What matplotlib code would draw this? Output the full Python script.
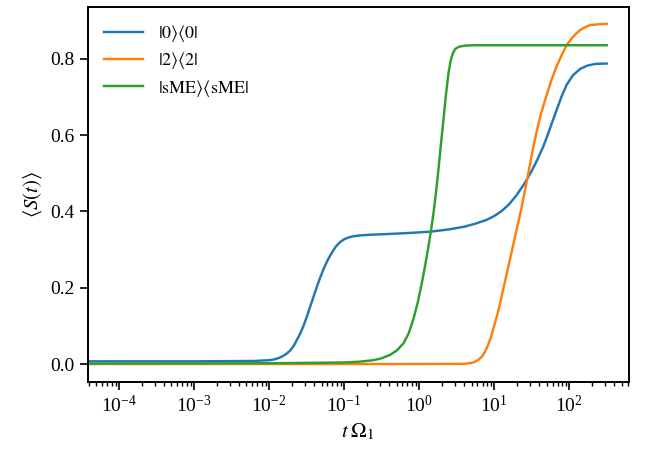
import numpy as np
import matplotlib.pyplot as plt

plt.rcParams['font.family'] = ['Liberation Serif', 'DejaVu Serif']
plt.rcParams['mathtext.fontset'] = 'stix'

# log10(t Omega_1) and <S(t)> for each projector
x_ground = [-4.5, -3.0, -2.2, -2.0, -1.93, -1.853, -1.78, -1.72, -1.67, -1.63,
            -1.585, -1.543, -1.5, -1.453, -1.41, -1.364, -1.32, -1.276, -1.22,
            -1.164, -1.11, -1.053, -1.0, -0.94, -0.876, -0.8, -0.653, -0.4, -0.1,
            0.15, 0.4, 0.6, 0.75, 0.9, 1.0, 1.1, 1.2, 1.3, 1.4, 1.5, 1.569, 1.65,
            1.703, 1.77, 1.836, 1.9, 1.969, 2.05, 2.147, 2.25, 2.35, 2.5]
s_ground = [0.007, 0.007, 0.008, 0.010, 0.012, 0.017, 0.025, 0.035, 0.048, 0.063,
            0.080, 0.099, 0.122, 0.150, 0.175, 0.202, 0.226, 0.248, 0.272,
            0.292, 0.308, 0.320, 0.327, 0.332, 0.335, 0.337, 0.339, 0.341, 0.344,
            0.347, 0.353, 0.360, 0.368, 0.378, 0.388, 0.401, 0.419, 0.443, 0.472,
            0.506, 0.533, 0.568, 0.595, 0.632, 0.668, 0.702, 0.733, 0.757, 0.774,
            0.783, 0.787, 0.788]

x_two = [-4.5, 0.0, 0.6, 0.7, 0.747, 0.79, 0.84, 0.88, 0.92, 0.96, 1.0, 1.04,
         1.08, 1.12, 1.16, 1.2, 1.24, 1.28, 1.32, 1.36, 1.39, 1.43, 1.457, 1.51,
         1.569, 1.63, 1.703, 1.77, 1.836, 1.9, 1.969, 2.05, 2.147, 2.22, 2.28,
         2.4, 2.5]
s_two = [0.0, 0.0, 0.0005, 0.003, 0.006, 0.011, 0.020, 0.033, 0.050, 0.072,
         0.100, 0.128, 0.160, 0.195, 0.230, 0.265, 0.300, 0.335, 0.370, 0.405,
         0.435, 0.474, 0.502, 0.557, 0.612, 0.660, 0.708, 0.748, 0.782, 0.810,
         0.837, 0.858, 0.876, 0.884, 0.889, 0.891, 0.892]

x_sme = [-4.5, -2.0, -1.0, -0.8, -0.609, -0.5, -0.387, -0.3, -0.209, -0.14,
         -0.076, -0.02, 0.036, 0.08, 0.124, 0.16, 0.191, 0.225, 0.257, 0.29,
         0.324, 0.357, 0.391, 0.42, 0.45, 0.48, 0.53, 0.613, 0.75, 2.5]
s_sme = [0.001, 0.002, 0.004, 0.006, 0.010, 0.015, 0.024, 0.035, 0.054, 0.080,
         0.118, 0.160, 0.212, 0.258, 0.308, 0.352, 0.395, 0.450, 0.509, 0.575,
         0.640, 0.705, 0.762, 0.795, 0.815, 0.826, 0.832, 0.835, 0.836, 0.836]

labels = [r'$|0\rangle\langle 0|$', r'$|2\rangle\langle 2|$',
          r'$|\mathrm{sME}\rangle\langle \mathrm{sME}|$']

fig = plt.figure(figsize=(6.45, 4.53), dpi=100)
ax = fig.add_axes([0.1357, 0.1574, 0.8393, 0.8278])

for xs, ys, lab in [(x_ground, s_ground, labels[0]),
                    (x_two, s_two, labels[1]),
                    (x_sme, s_sme, labels[2])]:
    ax.plot(10 ** np.array(xs), ys, lw=1.75, label=lab)

ax.set_xscale('log')
ax.set_xlim(10 ** -4.42, 10 ** 2.796)
ax.set_ylim(-0.0464, 0.937)
ax.set_yticks([0.0, 0.2, 0.4, 0.6, 0.8])

ax.set_xlabel(r'$t\;\Omega_1$', fontsize=15)
ax.set_ylabel(r'$\langle S(t)\rangle$', fontsize=15)

ax.tick_params(which='major', length=6, width=1.2, labelsize=14)
ax.tick_params(which='minor', length=3, width=1.0)
for sp in ax.spines.values():
    sp.set_linewidth(1.4)

ax.legend(loc='upper left', frameon=False, fontsize=13, handlelength=2.2,
          borderaxespad=0.5, labelspacing=0.35)

fig.savefig('out.png', dpi=100)
